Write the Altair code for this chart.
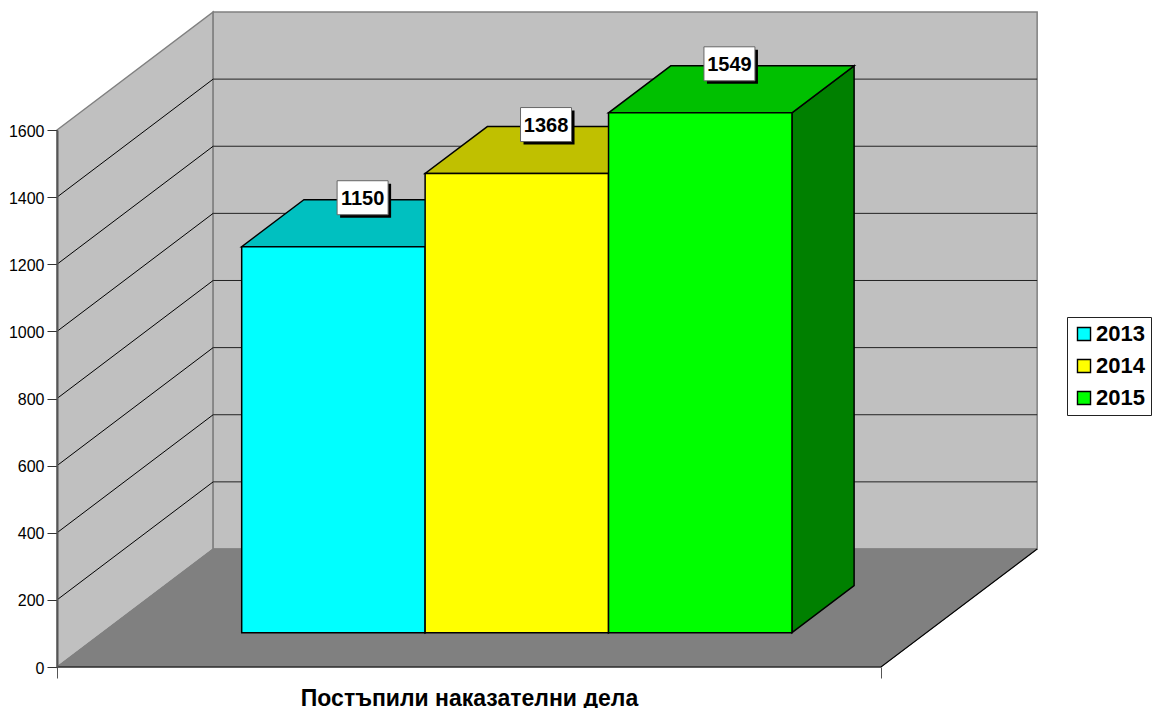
import altair as alt
import pandas as pd

years = ["2013", "2014", "2015"]
values = [1150, 1368, 1549]
front_colors = ["#00FFFF", "#FFFF00", "#00FF00"]
top_colors = ["#00C0C0", "#C0C000", "#00C000"]
side_colors = ["#008080", "#808000", "#008000"]
ticks = [200, 400, 600, 800, 1000, 1200, 1400]
axis_ticks = [0, 200, 400, 600, 800, 1000, 1200, 1400, 1600]
title_text = "Постъпили наказателни дела"

# Oblique depth: one full depth unit moves a point by these amounts in data units
DX, DY = 0.1895, 351.6
Y_MAX = 1600
BAR_START, BAR_W = 0.169, 0.2226
Z_FRONT, Z_BACK, Z_LABEL = 0.291, 0.689, 0.478
FONT = "Liberation Sans"

x_scale = alt.Scale(domain=[0, 1], nice=False, zero=False)
y_scale = alt.Scale(domain=[0, Y_MAX], nice=False, zero=False)
x_axis = alt.Axis(values=[0, 1], labels=False, title=title_text, titleFont=FONT,
                  titleFontSize=23, titleFontWeight="bold", titleColor="black",
                  titlePadding=9, tickSize=11, tickColor="#555555", domain=False,
                  grid=False, tickWidth=1, zindex=1)
y_axis = alt.Axis(values=axis_ticks, format="d", title=None, labelFont=FONT, labelFontSize=16,
                  labelColor="black", labelPadding=3, labelOffset=1, tickSize=10, tickColor="#333333",
                  tickWidth=1, domainColor="#555555", domainWidth=2, grid=False, zindex=1)
X = alt.X("x:Q", scale=x_scale, axis=x_axis)
Xh = alt.X("x:Q", scale=x_scale, axis=x_axis, stack=None)
Y = alt.Y("y:Q", stack=None, scale=y_scale, axis=y_axis)

# walls and floor
left_wall = pd.DataFrame({"x": [0, DX], "y": [0, DY], "y2": [Y_MAX, Y_MAX + DY]})
back_wall = pd.DataFrame({"x": [DX], "x2": [1 + DX], "y": [DY], "y2": [Y_MAX + DY]})
floor = pd.DataFrame({"y": [0, DY], "x": [0, DX], "x2": [1, 1 + DX]})
layers = [
    alt.Chart(left_wall).mark_area(color="#C0C0C0", stroke="#808080", strokeWidth=1.5)
    .encode(x=X, y=Y, y2="y2:Q"),
    alt.Chart(back_wall).mark_rect(color="#C0C0C0", stroke="#808080", strokeWidth=1.5)
    .encode(x=X, x2="x2:Q", y=Y, y2="y2:Q"),
]

# gridlines on the two walls
side_grid = pd.DataFrame({"x": [0, DX] * len(ticks),
                          "t": [t for t in ticks for _ in range(2)],
                          "y": [t + d for t in ticks for d in (0, DY)]})
back_grid = pd.DataFrame({"x": [DX] * len(ticks), "x2": [1 + DX] * len(ticks),
                          "y": [t + DY for t in ticks]})
layers += [
    alt.Chart(side_grid).mark_line(color="black", strokeWidth=1).encode(x=X, y=Y, detail="t:Q"),
    alt.Chart(back_grid).mark_rule(color="#222222", strokeWidth=1).encode(x=X, x2="x2:Q", y=Y),
    alt.Chart(floor).mark_area(orient="horizontal", color="#808080", stroke="#808080", strokeWidth=1)
    .encode(y=Y, x=Xh, x2="x2:Q"),
    alt.Chart(pd.DataFrame({"x": [0, 1, 1 + DX], "y": [0, 0, DY]}))
    .mark_line(color="black", strokeWidth=1.2).encode(x=X, y=Y),
]

# bars, painted from left to right
color = alt.Color("year:N",
                  scale=alt.Scale(domain=years, range=front_colors),
                  legend=alt.Legend(orient="none", legendX=1010, legendY=187, title=None,
                                    symbolType="square", symbolSize=170,
                                    symbolStrokeColor="black", symbolStrokeWidth=1.4,
                                    symbolOpacity=1, labelFont=FONT, labelFontSize=22,
                                    labelFontWeight="bold", labelColor="black", labelOffset=1,
                                    rowPadding=10, strokeColor="#222222", fillColor="white",
                                    padding=6, cornerRadius=0))
for i, (yr, v) in enumerate(zip(years, values)):
    l, r = BAR_START + i * BAR_W, BAR_START + (i + 1) * BAR_W
    side = pd.DataFrame({"x": [r + Z_FRONT * DX, r + Z_BACK * DX],
                         "y": [Z_FRONT * DY, Z_BACK * DY],
                         "y2": [v + Z_FRONT * DY, v + Z_BACK * DY]})
    top = pd.DataFrame({"y": [v + Z_FRONT * DY, v + Z_BACK * DY],
                        "x": [l + Z_FRONT * DX, l + Z_BACK * DX],
                        "x2": [r + Z_FRONT * DX, r + Z_BACK * DX]})
    front = pd.DataFrame({"year": [yr], "x": [l + Z_FRONT * DX], "x2": [r + Z_FRONT * DX],
                          "y": [Z_FRONT * DY], "y2": [v + Z_FRONT * DY]})
    layers += [
        alt.Chart(side).mark_area(color=side_colors[i], stroke="black", strokeWidth=1.5)
        .encode(x=X, y=Y, y2="y2:Q"),
        alt.Chart(top).mark_area(orient="horizontal", color=top_colors[i], stroke="black", strokeWidth=1.5)
        .encode(y=Y, x=Xh, x2="x2:Q"),
        alt.Chart(front).mark_rect(stroke="black", strokeWidth=1.5)
        .encode(x=X, x2="x2:Q", y=Y, y2="y2:Q", color=color),
    ]

# value labels
labels = pd.DataFrame({
    "x": [BAR_START + (i + 0.5) * BAR_W + Z_LABEL * DX for i in range(len(years))],
    "y": [v + Z_BACK * DY for v in values],
    "text": [str(v) for v in values],
})
lab = alt.Chart(labels)
layers += [
    lab.mark_rect(width=51, height=34, color="black", xOffset=3, yOffset=1).encode(x=X, y=Y),
    lab.mark_rect(width=51, height=34, color="white", stroke="#666666", strokeWidth=1, yOffset=-2)
    .encode(x=X, y=Y),
    lab.mark_text(font=FONT, fontSize=20, fontWeight="bold", color="black", baseline="middle",
                  align="center", yOffset=-1).encode(x=X, y=Y, text="text:N"),
]

chart = alt.layer(*layers).properties(
    width=824, height=537,
    padding={"left": 49, "top": 122, "right": 272, "bottom": 41},
    autosize=alt.AutoSizeParams(type="none"),
    background="white",
).configure_view(stroke=None)

chart.save("out.html", embed_options={"renderer": "svg", "actions": False})
